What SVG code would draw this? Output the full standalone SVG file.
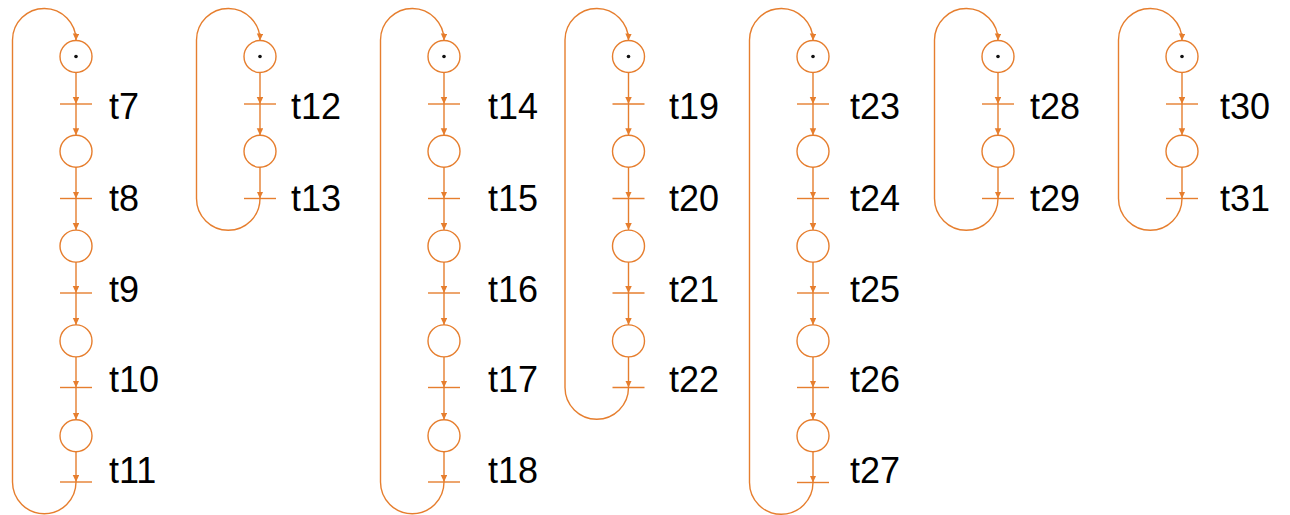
<svg xmlns="http://www.w3.org/2000/svg" width="1290" height="515" viewBox="0 0 1290 515">
  <defs>
    <marker id="arr" markerUnits="userSpaceOnUse" markerWidth="8" markerHeight="7" refX="7" refY="3.25" orient="auto">
      <path d="M0,0 L7,3.25 L0,6.5 z" fill="#E67E2E"/>
    </marker>
    <style>
      .place { fill: #fff; stroke: #E67E2E; stroke-width: 1.4; }
      .token { fill: #111; }
      .bar { stroke: #E67E2E; stroke-width: 1.4; fill: none; }
      .arc { stroke: #E67E2E; stroke-width: 1.4; fill: none; marker-end: url(#arr); }
      .lbl { font-family: "Liberation Sans", Arial, sans-serif; font-size: 36px; fill: #000; }
    </style>
  </defs>
  <rect width="1290" height="515" fill="#fff"/>

  <!-- arcs: place -> transition, transition -> place, and return loops -->
  <g id="connectors">
    <!-- net 1 (x=76) -->
    <path class="arc" d="M76,72.5 L76,104"/>
    <path class="arc" d="M76,104 L76,135.3"/>
    <path class="arc" d="M76,167.3 L76,198.5"/>
    <path class="arc" d="M76,198.5 L76,230.1"/>
    <path class="arc" d="M76,262.1 L76,293"/>
    <path class="arc" d="M76,293 L76,324.9"/>
    <path class="arc" d="M76,356.9 L76,387.5"/>
    <path class="arc" d="M76,387.5 L76,419.7"/>
    <path class="arc" d="M76,451.7 L76,482"/>
    <path class="arc" d="M76,482 A31.75,31.75 0 0 1 12.5,482 L12.5,40 A31.75,31.75 0 0 1 76,40.5"/>

    <!-- net 2 (x=260) -->
    <path class="arc" d="M260,72.5 L260,104"/>
    <path class="arc" d="M260,104 L260,135.3"/>
    <path class="arc" d="M260,167.3 L260,198.5"/>
    <path class="arc" d="M260,198.5 A31.75,31.75 0 0 1 196.5,198.5 L196.5,40 A31.75,31.75 0 0 1 260,40.5"/>

    <!-- net 3 (x=444) -->
    <path class="arc" d="M444,72.5 L444,104"/>
    <path class="arc" d="M444,104 L444,135.3"/>
    <path class="arc" d="M444,167.3 L444,198.5"/>
    <path class="arc" d="M444,198.5 L444,230.1"/>
    <path class="arc" d="M444,262.1 L444,293"/>
    <path class="arc" d="M444,293 L444,324.9"/>
    <path class="arc" d="M444,356.9 L444,387.5"/>
    <path class="arc" d="M444,387.5 L444,419.7"/>
    <path class="arc" d="M444,451.7 L444,482"/>
    <path class="arc" d="M444,482 A31.75,31.75 0 0 1 380.5,482 L380.5,40 A31.75,31.75 0 0 1 444,40.5"/>

    <!-- net 4 (x=628.5) -->
    <path class="arc" d="M628.5,72.5 L628.5,104"/>
    <path class="arc" d="M628.5,104 L628.5,135.3"/>
    <path class="arc" d="M628.5,167.3 L628.5,198.5"/>
    <path class="arc" d="M628.5,198.5 L628.5,230.1"/>
    <path class="arc" d="M628.5,262.1 L628.5,293"/>
    <path class="arc" d="M628.5,293 L628.5,324.9"/>
    <path class="arc" d="M628.5,356.9 L628.5,387.5"/>
    <path class="arc" d="M628.5,387.5 A31.75,31.75 0 0 1 565,387.5 L565,40 A31.75,31.75 0 0 1 628.5,40.5"/>

    <!-- net 5 (x=813) -->
    <path class="arc" d="M813,72.5 L813,104"/>
    <path class="arc" d="M813,104 L813,135.3"/>
    <path class="arc" d="M813,167.3 L813,198.5"/>
    <path class="arc" d="M813,198.5 L813,230.1"/>
    <path class="arc" d="M813,262.1 L813,293"/>
    <path class="arc" d="M813,293 L813,324.9"/>
    <path class="arc" d="M813,356.9 L813,387.5"/>
    <path class="arc" d="M813,387.5 L813,419.7"/>
    <path class="arc" d="M813,451.7 L813,482.5"/>
    <path class="arc" d="M813,482.5 A31.75,31.75 0 0 1 749.5,482.5 L749.5,40 A31.75,31.75 0 0 1 813,40.5"/>

    <!-- net 6 (x=998) -->
    <path class="arc" d="M998,72.5 L998,104"/>
    <path class="arc" d="M998,104 L998,135.3"/>
    <path class="arc" d="M998,167.3 L998,198.5"/>
    <path class="arc" d="M998,198.5 A31.75,31.75 0 0 1 934.5,198.5 L934.5,40 A31.75,31.75 0 0 1 998,40.5"/>

    <!-- net 7 (x=1182) -->
    <path class="arc" d="M1182,72.5 L1182,104"/>
    <path class="arc" d="M1182,104 L1182,135.3"/>
    <path class="arc" d="M1182,167.3 L1182,198.5"/>
    <path class="arc" d="M1182,198.5 A31.75,31.75 0 0 1 1118.5,198.5 L1118.5,40 A31.75,31.75 0 0 1 1182,40.5"/>
  </g>

  <!-- net 1 -->
  <g id="p1_1"><circle class="place" cx="76" cy="56.5" r="16"/><circle class="token" cx="76" cy="56.5" r="1.8"/></g>
  <g id="t7"><line class="bar" x1="60" y1="104" x2="92" y2="104"/><text class="lbl" x="109" y="119">t7</text></g>
  <g id="p1_2"><circle class="place" cx="76" cy="151.3" r="16"/></g>
  <g id="t8"><line class="bar" x1="60" y1="198.5" x2="92" y2="198.5"/><text class="lbl" x="109" y="210.5">t8</text></g>
  <g id="p1_3"><circle class="place" cx="76" cy="246.1" r="16"/></g>
  <g id="t9"><line class="bar" x1="60" y1="293" x2="92" y2="293"/><text class="lbl" x="109" y="302">t9</text></g>
  <g id="p1_4"><circle class="place" cx="76" cy="340.9" r="16"/></g>
  <g id="t10"><line class="bar" x1="60" y1="387.5" x2="92" y2="387.5"/><text class="lbl" x="109" y="392">t10</text></g>
  <g id="p1_5"><circle class="place" cx="76" cy="435.7" r="16"/></g>
  <g id="t11"><line class="bar" x1="60" y1="482" x2="92" y2="482"/><text class="lbl" x="109" y="482.5">t11</text></g>

  <!-- net 2 -->
  <g id="p2_1"><circle class="place" cx="260" cy="56.5" r="16"/><circle class="token" cx="260" cy="56.5" r="1.8"/></g>
  <g id="t12"><line class="bar" x1="244" y1="104" x2="276" y2="104"/><text class="lbl" x="291" y="119">t12</text></g>
  <g id="p2_2"><circle class="place" cx="260" cy="151.3" r="16"/></g>
  <g id="t13"><line class="bar" x1="244" y1="198.5" x2="276" y2="198.5"/><text class="lbl" x="291" y="210.5">t13</text></g>

  <!-- net 3 -->
  <g id="p3_1"><circle class="place" cx="444" cy="56.5" r="16"/><circle class="token" cx="444" cy="56.5" r="1.8"/></g>
  <g id="t14"><line class="bar" x1="428" y1="104" x2="460" y2="104"/><text class="lbl" x="488" y="119">t14</text></g>
  <g id="p3_2"><circle class="place" cx="444" cy="151.3" r="16"/></g>
  <g id="t15"><line class="bar" x1="428" y1="198.5" x2="460" y2="198.5"/><text class="lbl" x="488" y="210.5">t15</text></g>
  <g id="p3_3"><circle class="place" cx="444" cy="246.1" r="16"/></g>
  <g id="t16"><line class="bar" x1="428" y1="293" x2="460" y2="293"/><text class="lbl" x="488" y="302">t16</text></g>
  <g id="p3_4"><circle class="place" cx="444" cy="340.9" r="16"/></g>
  <g id="t17"><line class="bar" x1="428" y1="387.5" x2="460" y2="387.5"/><text class="lbl" x="488" y="392">t17</text></g>
  <g id="p3_5"><circle class="place" cx="444" cy="435.7" r="16"/></g>
  <g id="t18"><line class="bar" x1="428" y1="482" x2="460" y2="482"/><text class="lbl" x="488" y="482.5">t18</text></g>

  <!-- net 4 -->
  <g id="p4_1"><circle class="place" cx="628.5" cy="56.5" r="16"/><circle class="token" cx="628.5" cy="56.5" r="1.8"/></g>
  <g id="t19"><line class="bar" x1="612.5" y1="104" x2="644.5" y2="104"/><text class="lbl" x="669" y="119">t19</text></g>
  <g id="p4_2"><circle class="place" cx="628.5" cy="151.3" r="16"/></g>
  <g id="t20"><line class="bar" x1="612.5" y1="198.5" x2="644.5" y2="198.5"/><text class="lbl" x="669" y="210.5">t20</text></g>
  <g id="p4_3"><circle class="place" cx="628.5" cy="246.1" r="16"/></g>
  <g id="t21"><line class="bar" x1="612.5" y1="293" x2="644.5" y2="293"/><text class="lbl" x="669" y="302">t21</text></g>
  <g id="p4_4"><circle class="place" cx="628.5" cy="340.9" r="16"/></g>
  <g id="t22"><line class="bar" x1="612.5" y1="387.5" x2="644.5" y2="387.5"/><text class="lbl" x="669" y="392">t22</text></g>

  <!-- net 5 -->
  <g id="p5_1"><circle class="place" cx="813" cy="56.5" r="16"/><circle class="token" cx="813" cy="56.5" r="1.8"/></g>
  <g id="t23"><line class="bar" x1="797" y1="104" x2="829" y2="104"/><text class="lbl" x="850" y="119">t23</text></g>
  <g id="p5_2"><circle class="place" cx="813" cy="151.3" r="16"/></g>
  <g id="t24"><line class="bar" x1="797" y1="198.5" x2="829" y2="198.5"/><text class="lbl" x="850" y="210.5">t24</text></g>
  <g id="p5_3"><circle class="place" cx="813" cy="246.1" r="16"/></g>
  <g id="t25"><line class="bar" x1="797" y1="293" x2="829" y2="293"/><text class="lbl" x="850" y="302">t25</text></g>
  <g id="p5_4"><circle class="place" cx="813" cy="340.9" r="16"/></g>
  <g id="t26"><line class="bar" x1="797" y1="387.5" x2="829" y2="387.5"/><text class="lbl" x="850" y="392">t26</text></g>
  <g id="p5_5"><circle class="place" cx="813" cy="435.7" r="16"/></g>
  <g id="t27"><line class="bar" x1="797" y1="482.5" x2="829" y2="482.5"/><text class="lbl" x="850" y="482.5">t27</text></g>

  <!-- net 6 -->
  <g id="p6_1"><circle class="place" cx="998" cy="56.5" r="16"/><circle class="token" cx="998" cy="56.5" r="1.8"/></g>
  <g id="t28"><line class="bar" x1="982" y1="104" x2="1014" y2="104"/><text class="lbl" x="1030" y="119">t28</text></g>
  <g id="p6_2"><circle class="place" cx="998" cy="151.3" r="16"/></g>
  <g id="t29"><line class="bar" x1="982" y1="198.5" x2="1014" y2="198.5"/><text class="lbl" x="1030" y="210.5">t29</text></g>

  <!-- net 7 -->
  <g id="p7_1"><circle class="place" cx="1182" cy="56.5" r="16"/><circle class="token" cx="1182" cy="56.5" r="1.8"/></g>
  <g id="t30"><line class="bar" x1="1166" y1="104" x2="1198" y2="104"/><text class="lbl" x="1220" y="119">t30</text></g>
  <g id="p7_2"><circle class="place" cx="1182" cy="151.3" r="16"/></g>
  <g id="t31"><line class="bar" x1="1166" y1="198.5" x2="1198" y2="198.5"/><text class="lbl" x="1220" y="210.5">t31</text></g>
</svg>
